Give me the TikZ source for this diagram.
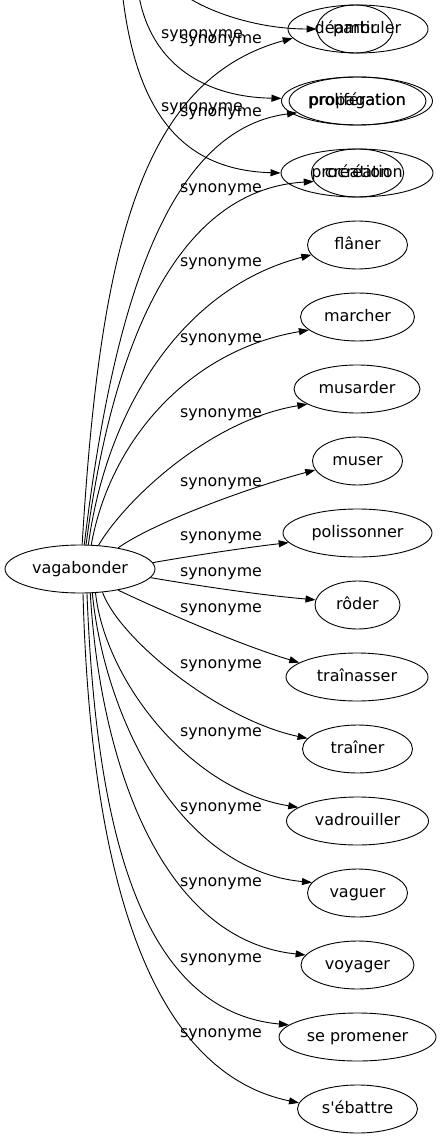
\documentclass[tikz,border=0pt]{standalone}
\usepackage{fontspec}
\newfontfamily\dv[Ligatures=TeXOff]{DejaVu Sans}
\usetikzlibrary{shapes.geometric,arrows.meta}
\tikzset{
  ell/.style={draw, ellipse, inner sep=0pt, minimum height=48pt, line width=0.9pt,
    text height=12.5pt, text depth=3.5pt,
    font=\dv\fontsize{16}{18}\selectfont},
  syn/.style={draw, line width=0.9pt, -{Triangle[length=10pt,width=7pt]}},
  lab/.style={inner sep=0pt, font=\dv\fontsize{15.8}{18}\selectfont}
}
\begin{document}
\begin{tikzpicture}[x=1pt,y=-1pt]
\useasboundingbox (0,0) rectangle (441,1139);
\clip (0,0) rectangle (441,1139);
% nodes
\node[ell, minimum width=150pt] (vag) at (80,569) {vagabonder};
\node[ell, minimum width=140pt] (deamb) at (358,29) {déambuler};
\node[ell, minimum width=76pt] (partir) at (355,29) {partir};
\node[ell, minimum width=151pt] (prolif) at (357,101) {prolifération};
\node[ell, minimum width=121pt] (propag) at (357.5,101) {propagation};
\node[ell, minimum width=152pt] (procreation) at (357,173) {procréation};
\node[ell, minimum width=77pt] (creation) at (357.5,173) {création};
\node[ell, minimum width=100pt] (flaner) at (357.5,245) {flâner};
\node[ell, minimum width=114pt] (marcher) at (357.5,317) {marcher};
\node[ell, minimum width=126pt] (musarder) at (357,389) {musarder};
\node[ell, minimum width=90pt] (muser) at (357.5,461) {muser};
\node[ell, minimum width=149pt] (poliss) at (357.5,533) {polissonner};
\node[ell, minimum width=85pt] (roder) at (357.5,605) {rôder};
\node[ell, minimum width=142pt] (trainasser) at (357,677) {traînasser};
\node[ell, minimum width=110pt] (trainer) at (357.5,749) {traîner};
\node[ell, minimum width=142pt] (vadr) at (357.5,821) {vadrouiller};
\node[ell, minimum width=100pt] (vaguer) at (357.5,893) {vaguer};
\node[ell, minimum width=113pt] (voyager) at (357.5,965) {voyager};
\node[ell, minimum width=157pt] (sepro) at (357.5,1037) {se promener};
\node[ell, minimum width=120pt] (sebattre) at (357.5,1109) {s'ébattre};
% free ends above the picture
\coordinate (t1) at (175,-12);
\coordinate (t2) at (138,-10);
\coordinate (t3) at (122,-10);
% edges coming from above
\draw[syn] (t1) .. controls (200,10) and (255,29) .. (partir.180);
\draw[syn] (t2) .. controls (148,60) and (200,97) .. (prolif.178);
\draw[syn] (t3) .. controls (135,110) and (180,170) .. (procreation.180);
% edges from vagabonder
\draw[syn] (vag.85) .. controls (100,250) and (140,80) .. (deamb.188);
\draw[syn] (vag.80) .. controls (110,330) and (160,130) .. (propag.191);
\draw[syn] (vag.76) .. controls (110,360) and (170,190) .. (creation.191);
\draw[syn] (vag.71) .. controls (105,420) and (175,290) .. (flaner.192);
\draw[syn] (vag.65) .. controls (110,440) and (190,350) .. (marcher.195);
\draw[syn] (vag.52) .. controls (125,500) and (210,420) .. (musarder.197);
\draw[syn] (vag.29) .. controls (150,525) and (240,490) .. (muser.192);
\draw[syn] (vag.5) .. controls (190,556) and (250,547) .. (poliss.188);
\draw[syn] (vag.-7) .. controls (200,586) and (260,595) .. (roder.173);
\draw[syn] (vag.-29) .. controls (160,610) and (240,645) .. (trainasser.166);
\draw[syn] (vag.-46) .. controls (120,640) and (220,720) .. (trainer.168);
\draw[syn] (vag.-57) .. controls (105,680) and (190,790) .. (vadr.167);
\draw[syn] (vag.-63) .. controls (105,720) and (180,870) .. (vaguer.167);
\draw[syn] (vag.-67) .. controls (100,760) and (160,940) .. (voyager.169);
\draw[syn] (vag.-74) .. controls (95,800) and (130,1010) .. (sepro.170);
\draw[syn] (vag.-83) .. controls (90,850) and (140,1070) .. (sebattre.174);
% labels
\node[lab] (lt1) at (202,36) {synonyme};
\node[lab] (lt2) at (202,108.5) {synonyme};
\node[lab] (l1) at (221,40.5) {synonyme};
\node[lab] (l2) at (221,113.5) {synonyme};
\node[lab] (l3) at (221,189.5) {synonyme};
\node[lab] (l4) at (221,264) {synonyme};
\node[lab] (l5) at (221,339.5) {synonyme};
\node[lab] (l6) at (221,415) {synonyme};
\node[lab] (l7) at (221,484) {synonyme};
\node[lab] (l8) at (221,537.5) {synonyme};
\node[lab] (l9) at (221,573.5) {synonyme};
\node[lab] (l10) at (221,610) {synonyme};
\node[lab] (l11) at (221,666) {synonyme};
\node[lab] (l12) at (221,733.5) {synonyme};
\node[lab] (l13) at (221,808.5) {synonyme};
\node[lab] (l14) at (221,883.5) {synonyme};
\node[lab] (l15) at (221,960) {synonyme};
\node[lab] (l16) at (221,1035) {synonyme};
\end{tikzpicture}
\end{document}
